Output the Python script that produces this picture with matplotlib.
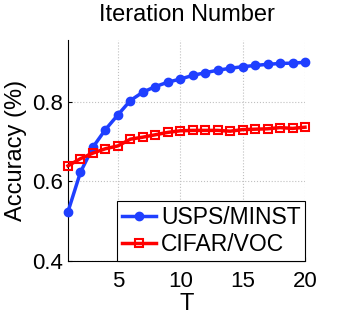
import matplotlib
matplotlib.use("Agg")
import matplotlib.pyplot as plt

# Data
T = list(range(1, 21))
usps_minst = [0.524, 0.623, 0.686, 0.730, 0.767, 0.803, 0.824, 0.838, 0.849, 0.857,
              0.866, 0.873, 0.879, 0.884, 0.888, 0.891, 0.894, 0.896, 0.897, 0.899]
cifar_voc = [0.639, 0.657, 0.671, 0.682, 0.689, 0.706, 0.711, 0.717, 0.723, 0.727,
             0.728, 0.728, 0.728, 0.726, 0.730, 0.731, 0.732, 0.735, 0.733, 0.736]
x_ticks = [5, 10, 15, 20]
y_ticks = [0.4, 0.6, 0.8]

plt.rcParams["font.family"] = ["Liberation Sans", "DejaVu Sans"]

fig = plt.figure(figsize=(3.37, 3.15), dpi=100)
ax = fig.add_axes([68 / 337, 54 / 315, 237 / 337, 221 / 315])

ax.plot(T, usps_minst, color="#1f3fff", lw=2.5, marker="o", ms=6,
        label="USPS/MINST", clip_on=False, zorder=3)
ax.plot(T, cifar_voc, color="#ff0000", lw=2.5, marker="s", ms=6,
        mfc="none", mew=1.5, label="CIFAR/VOC", clip_on=False, zorder=3)

ax.set_xlim(1, 20)
ax.set_ylim(0.4, 0.955)
ax.set_xticks(x_ticks)
ax.set_yticks(y_ticks)
ax.tick_params(direction="in", labelsize=16, length=3)
ax.tick_params(axis="x", pad=7)
ax.grid(True, ls=":", color="#c0c0c0", lw=0.8)
ax.spines["top"].set_visible(False)
ax.spines["right"].set_visible(False)

ax.set_title("Iteration Number", fontsize=17, pad=14)
ax.set_xlabel("T", fontsize=17, labelpad=1)
ax.set_ylabel("Accuracy (%)", fontsize=17, labelpad=4)

leg = ax.legend(loc="lower right", fontsize=16.5, handlelength=1.5,
                handletextpad=0.2, borderpad=0.2, labelspacing=0.2,
                borderaxespad=0, fancybox=False, framealpha=1)
leg.get_frame().set_edgecolor("black")
leg.get_frame().set_linewidth(0.8)

fig.savefig("out.png", dpi=100)
